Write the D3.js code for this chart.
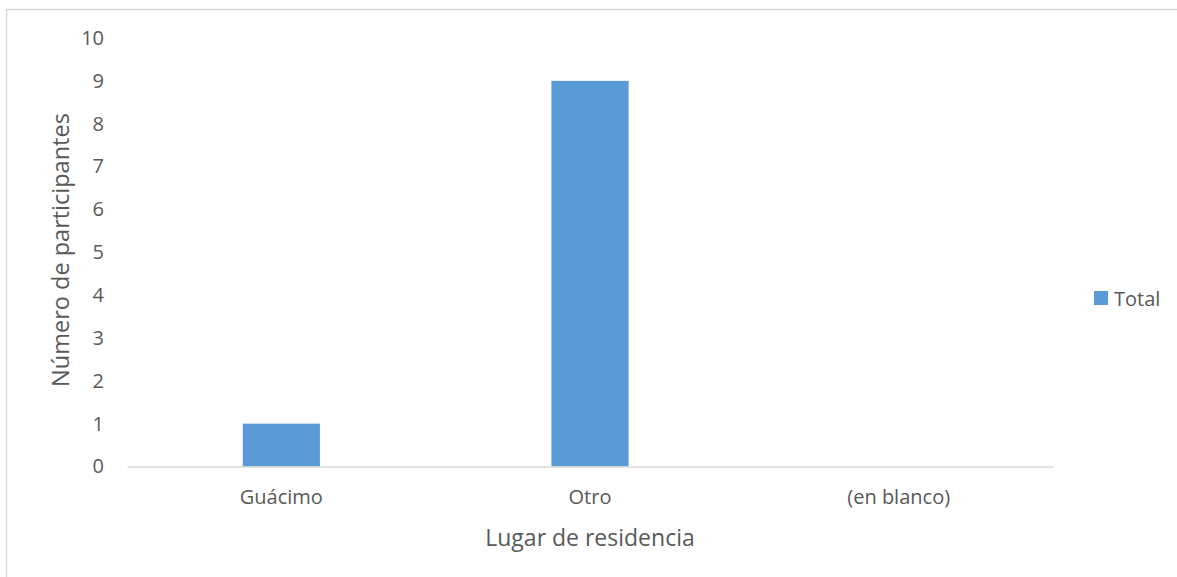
<!DOCTYPE html>
<html><head><meta charset="utf-8">
<script src="https://cdn.jsdelivr.net/npm/d3@7"></script>
<style>body{margin:0;background:#fff;} text{font-family:"Open Sans",sans-serif;fill:#595959;}</style>
</head><body>
<svg id="c" width="1177" height="577"></svg>
<script>
const categories = ["Guácimo", "Otro", "(en blanco)"];
const values = [1, 9, 0];
const yTicks = [0,1,2,3,4,5,6,7,8,9,10];
const seriesName = "Total";

const svg = d3.select("#c");
svg.append("rect").attr("x",6.5).attr("y",9.5).attr("width",1200).attr("height",600)
  .attr("fill","none").attr("stroke","#d9d9d9").attr("stroke-width",1.5);

const x = d3.scaleBand().domain(categories).range([127,1053]).paddingInner(0.75).paddingOuter(0.375);
const y = d3.scaleLinear().domain([0,10]).range([466.5,38]);

const yAxis = d3.axisLeft(y).tickValues(yTicks).tickSize(0).tickPadding(0);
const gy = svg.append("g").attr("transform","translate(104,0)").call(yAxis);
gy.select(".domain").remove();
gy.selectAll("text").style("font-size","20px").style("font-family","'Open Sans',sans-serif").attr("fill","#595959");

svg.selectAll("rect.bar").data(values).enter().append("rect").attr("class","bar")
  .attr("x",(d,i)=>x(categories[i])).attr("width",x.bandwidth())
  .attr("y",d=>y(d)).attr("height",d=>y(0)-y(d)).attr("fill","#5b9bd5");

const xAxis = d3.axisBottom(x).tickSize(0).tickPadding(23);
const gx = svg.append("g").attr("transform",`translate(0,${y(0)})`).call(xAxis);
gx.select(".domain").attr("stroke","#d9d9d9").attr("stroke-width",1.5);
gx.selectAll("text").style("font-size","20px").style("font-family","'Open Sans',sans-serif").attr("fill","#595959");

svg.append("text").attr("x",590).attr("y",546).attr("text-anchor","middle")
  .style("font-size","23px").text("Lugar de residencia");
svg.append("text").attr("transform","translate(69,250) rotate(-90)").attr("text-anchor","middle")
  .style("font-size","23.5px").text("Número de participantes");

svg.append("rect").attr("x",1094).attr("y",291).attr("width",14).attr("height",14).attr("fill","#5b9bd5");
svg.append("text").attr("x",1114).attr("y",306).style("font-size","20px").text(seriesName);
</script>
</body></html>
